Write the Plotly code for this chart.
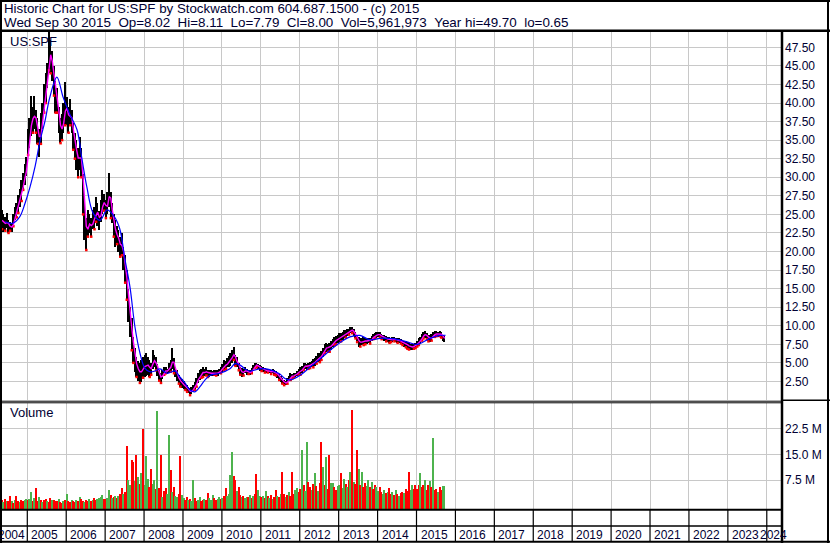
import plotly.graph_objects as go

# ---------------- DATA ----------------
# half-month periods from May 2004 to Sep 2015 (2004: 16 halves, 2005-2014: 24, 2015: 18)
PRICE_LOW = [
    23.0, 22.6, 22.8, 23.2, 22.5, 22.8, 22.6, 23.4, 24.2, 24.6, 25.2, 26.0, 26.8, 28.3, 29.0, 30.2,
    33.0, 34.0, 35.5, 36.0, 36.5, 36.0, 34.5, 32.7, 34.5, 36.5, 38.7, 40.0, 42.0, 44.4, 44.0, 43.0, 41.0, 38.7, 38.7, 36.0, 34.6, 35.0, 36.0, 37.0,
    37.0, 36.0, 37.0, 36.0, 33.7, 32.5, 31.0, 30.0, 31.0, 30.0, 25.0, 21.5, 20.2, 22.0, 22.5, 22.0, 23.0, 23.0, 24.0, 23.5, 22.9, 24.0, 25.0, 25.5,
    24.5, 25.0, 26.0, 24.5, 23.8, 22.0, 20.6, 21.0, 20.0, 19.3, 19.5, 17.5, 15.8, 13.5, 10.5, 8.5, 6.7, 5.0, 3.8, 3.1, 2.6, 2.3, 2.4, 3.0,
    3.1, 3.2, 3.4, 3.1, 3.4, 4.2, 4.4, 4.0, 3.2, 2.6, 2.3, 2.8, 3.4, 3.6, 3.5, 3.6, 3.8, 4.2, 3.6, 3.1, 2.6, 2.2, 1.8, 1.6,
    1.5, 1.35, 1.1, 0.9, 0.65, 0.8, 1.1, 1.35, 1.8, 2.3, 2.7, 3.0, 3.1, 3.2, 3.3, 3.1, 3.1, 3.3, 3.2, 3.4, 3.3, 3.3, 3.5, 3.6,
    3.8, 4.0, 4.2, 4.4, 4.4, 4.6, 5.0, 5.4, 4.6, 4.4, 4.0, 3.4, 3.1, 3.3, 3.6, 3.4, 3.5, 3.4, 3.6, 3.9, 4.3, 4.4, 4.2, 3.9,
    3.9, 3.8, 3.7, 3.6, 3.7, 3.6, 3.5, 3.6, 3.4, 3.3, 3.0, 2.7, 2.4, 2.2, 2.0, 2.0, 2.2, 2.5, 2.7, 2.9, 3.0, 3.1, 3.2, 3.4,
    3.4, 3.7, 4.0, 4.2, 4.1, 4.2, 4.3, 4.4, 4.4, 4.6, 4.9, 5.1, 5.1, 5.4, 5.8, 6.3, 6.4, 6.5, 6.5, 6.8, 7.1, 7.4, 7.5, 7.7,
    7.8, 7.9, 8.1, 8.3, 8.4, 8.6, 8.8, 9.0, 9.0, 8.6, 8.3, 7.8, 7.1, 7.2, 7.4, 7.4, 7.5, 7.6, 7.7, 7.6, 7.9, 8.2, 8.3, 8.4,
    8.5, 8.4, 8.2, 8.1, 8.0, 7.9, 7.8, 7.7, 7.8, 7.8, 7.9, 7.8, 7.7, 7.7, 7.6, 7.4, 7.2, 7.1, 6.9, 6.8, 6.7, 6.8, 6.9, 7.0,
    7.2, 7.4, 7.6, 8.0, 8.3, 8.4, 8.2, 7.9, 7.8, 8.0, 8.3, 8.5, 8.6, 8.5, 8.6, 8.4, 8.0, 7.8,
]
PRICE_HIGH = [
    25.6, 25.0, 24.6, 25.2, 24.2, 24.0, 23.8, 25.0, 26.0, 26.5, 27.6, 28.4, 29.6, 30.6, 31.8, 32.7,
    36.5, 38.0, 41.0, 39.5, 41.0, 39.0, 38.0, 36.5, 38.7, 40.0, 42.5, 44.0, 45.4, 49.7, 48.5, 47.0, 45.0, 43.0, 42.0, 39.5, 38.0, 38.5, 40.0, 42.8,
    40.8, 39.5, 40.5, 39.0, 37.3, 36.0, 35.0, 34.0, 35.4, 34.0, 30.5, 27.0, 24.5, 25.6, 25.0, 24.5, 25.6, 26.0, 27.3, 26.5, 25.5, 27.0, 28.3, 27.8,
    27.0, 28.0, 30.6, 28.0, 26.5, 25.0, 24.2, 23.5, 22.9, 22.0, 22.5, 20.6, 19.5, 17.5, 15.0, 12.5, 11.0, 8.5, 7.0, 5.8, 5.2, 5.0, 5.4, 5.8,
    6.0, 6.3, 5.8, 5.4, 5.0, 6.7, 6.0, 5.8, 4.8, 4.0, 3.6, 4.0, 4.4, 4.4, 4.2, 5.0, 5.4, 7.0, 5.6, 4.4, 4.0, 3.4, 3.1, 2.8,
    2.5, 2.3, 2.0, 1.8, 1.6, 1.7, 2.0, 2.4, 3.0, 3.6, 4.0, 4.2, 4.4, 4.2, 4.4, 4.0, 4.0, 4.0, 3.9, 4.0, 4.0, 4.0, 4.2, 4.4,
    4.8, 5.4, 5.2, 5.6, 5.9, 6.3, 6.8, 7.1, 6.0, 5.8, 5.0, 4.5, 4.3, 4.2, 4.4, 4.2, 4.0, 4.0, 4.3, 4.7, 5.0, 5.0, 4.8, 4.7,
    4.6, 4.4, 4.3, 4.2, 4.2, 4.1, 4.1, 4.2, 4.0, 3.9, 3.7, 3.5, 3.2, 2.9, 2.7, 2.6, 2.9, 3.3, 3.6, 3.5, 3.6, 3.7, 3.9, 4.2,
    4.4, 4.6, 5.0, 5.0, 4.9, 5.0, 5.1, 5.3, 5.5, 5.7, 5.9, 6.3, 6.3, 6.6, 7.0, 7.5, 7.7, 7.6, 7.7, 8.0, 8.2, 8.5, 8.6, 8.8,
    9.0, 9.0, 9.2, 9.4, 9.4, 9.5, 9.6, 9.8, 9.8, 9.5, 9.2, 8.8, 8.5, 8.4, 8.3, 8.5, 8.4, 8.3, 8.4, 8.3, 8.6, 8.9, 9.0, 9.1,
    9.2, 9.1, 8.9, 8.8, 8.7, 8.6, 8.5, 8.5, 8.4, 8.5, 8.5, 8.4, 8.3, 8.3, 8.2, 8.1, 8.0, 7.9, 7.8, 7.7, 7.6, 7.5, 7.5, 7.7,
    8.0, 8.3, 8.5, 8.9, 9.2, 9.3, 9.0, 8.8, 8.7, 8.9, 9.1, 9.3, 9.3, 9.2, 9.3, 9.1, 8.8, 8.6,
]
MA_SHORT = [
    24.2, 24.0, 23.8, 23.9, 23.8, 23.4, 23.3, 23.6, 24.5, 25.3, 25.9, 26.8, 27.6, 28.7, 29.8, 30.8,
    32.8, 35.2, 37.0, 37.9, 38.2, 38.0, 36.9, 35.5, 35.5, 37.3, 39.4, 41.3, 42.8, 45.2, 46.5, 45.6, 44.0, 42.0, 40.6, 39.0, 37.0, 36.5, 37.3, 38.9,
    39.3, 38.4, 38.2, 38.0, 36.5, 35.0, 33.7, 32.6, 32.6, 32.6, 30.0, 26.2, 23.4, 23.0, 23.7, 23.5, 23.7, 24.4, 25.0, 25.3, 24.6, 24.8, 26.0, 26.6,
    26.2, 26.1, 27.4, 27.2, 25.7, 24.3, 23.0, 22.3, 21.8, 21.0, 20.8, 20.0, 18.4, 16.6, 14.2, 11.7, 9.7, 7.8, 6.1, 4.9, 4.2, 3.8, 3.8, 4.2,
    4.5, 4.6, 4.7, 4.4, 4.2, 4.8, 5.3, 5.0, 4.5, 3.7, 3.1, 3.2, 3.6, 3.9, 3.9, 4.1, 4.4, 5.1, 5.1, 4.2, 3.5, 3.0, 2.6, 2.3,
    2.1, 1.9, 1.7, 1.45, 1.2, 1.15, 1.4, 1.7, 2.1, 2.7, 3.1, 3.5, 3.7, 3.7, 3.8, 3.7, 3.6, 3.6, 3.6, 3.6, 3.7, 3.65, 3.75, 3.9,
    4.2, 4.5, 4.7, 4.85, 5.1, 5.3, 5.7, 6.1, 5.8, 5.2, 4.8, 4.2, 3.8, 3.7, 3.9, 3.9, 3.8, 3.7, 3.8, 4.1, 4.5, 4.7, 4.6, 4.4,
    4.3, 4.2, 4.05, 3.95, 3.9, 3.9, 3.8, 3.85, 3.8, 3.65, 3.5, 3.2, 2.95, 2.7, 2.45, 2.3, 2.4, 2.7, 3.0, 3.2, 3.25, 3.35, 3.5, 3.7,
    3.85, 4.0, 4.3, 4.55, 4.55, 4.55, 4.65, 4.8, 4.9, 5.05, 5.3, 5.55, 5.7, 5.85, 6.2, 6.65, 7.0, 7.05, 7.1, 7.25, 7.5, 7.8, 8.0, 8.15,
    8.3, 8.4, 8.55, 8.75, 8.9, 9.0, 9.1, 9.3, 9.4, 9.25, 8.9, 8.5, 8.05, 7.8, 7.8, 7.9, 7.95, 7.95, 8.0, 8.0, 8.1, 8.4, 8.6, 8.7,
    8.8, 8.8, 8.65, 8.5, 8.4, 8.3, 8.2, 8.15, 8.1, 8.1, 8.2, 8.15, 8.05, 8.0, 7.95, 7.8, 7.7, 7.55, 7.45, 7.3, 7.2, 7.15, 7.2, 7.3,
    7.5, 7.7, 7.95, 8.25, 8.6, 8.8, 8.7, 8.5, 8.3, 8.35, 8.6, 8.8, 8.9, 8.9, 8.9, 8.85, 8.6, 8.3,
]
MA_LONG_DATES = [
    "2004-06-05", "2004-08-15", "2004-10-22", "2004-12-10", "2005-01-26", "2005-03-15", "2005-05-01",
    "2005-06-14", "2005-07-31", "2005-10-05", "2005-12-02", "2006-02-06", "2006-04-12", "2006-05-30",
    "2006-07-13", "2006-09-09", "2006-11-14", "2007-01-19", "2007-04-01", "2007-05-19", "2007-07-05",
    "2007-08-22", "2007-10-08", "2007-11-24", "2008-01-08", "2008-02-25", "2008-04-12", "2008-05-30",
    "2008-08-04", "2008-10-19", "2008-12-02", "2009-01-19", "2009-03-07", "2009-04-23", "2009-06-09",
    "2009-07-27", "2009-09-10", "2009-12-14", "2010-03-17", "2010-05-04", "2010-06-21", "2010-08-04",
    "2010-09-21", "2010-12-24", "2011-03-26", "2011-06-28", "2011-08-15", "2011-10-01", "2012-01-01",
    "2012-04-05", "2012-07-09", "2012-10-12", "2013-01-11", "2013-04-16", "2013-07-20", "2013-10-20",
    "2014-01-22", "2014-04-22", "2014-07-26", "2014-10-30", "2015-01-15", "2015-05-08", "2015-08-12",
    "2015-09-30",
]
MA_LONG = [
    24.0, 23.8, 24.7, 26.5, 28.7, 31.5, 35.0, 37.5, 40.8, 43.5, 40.8, 38.4, 36.4, 32.3, 28.7, 25.2,
    24.2, 25.6, 24.6, 23.0, 19.0, 15.2, 9.8, 6.3, 4.3, 3.8, 3.9, 4.2, 3.6, 3.9, 3.1, 2.3, 1.35, 1.1,
    1.8, 2.7, 3.3, 3.6, 4.2, 4.9, 4.7, 4.2, 3.9, 4.2, 4.1, 3.5, 2.9, 2.7, 3.3, 4.4, 5.5, 6.7, 7.7,
    8.5, 8.7, 8.1, 8.3, 8.3, 8.1, 7.7, 7.5, 8.3, 8.7, 8.7,
]
VOLUME_M = [
    1.6, 1.2, 1.9, 1.3, 1.5, 3.0, 1.4, 1.0, 1.7, 2.8, 1.3, 1.2, 1.8, 1.4, 1.6, 2.1,
    1.8, 2.0, 4.2, 1.5, 2.2, 5.2, 1.4, 2.6, 1.8, 1.2, 1.6, 2.0, 1.3, 1.1, 2.2, 1.6, 1.8, 1.3, 1.5, 1.9, 1.2, 1.0, 1.4, 1.6,
    3.4, 1.5, 1.2, 1.8, 1.4, 1.1, 1.6, 1.3, 2.7, 1.9, 1.4, 1.2, 1.7, 1.5, 2.0, 1.3, 1.8, 2.2, 1.6, 1.9, 2.4, 2.5, 3.2, 2.0,
    2.0, 2.4, 4.7, 3.2, 2.2, 2.6, 3.0, 2.4, 2.8, 3.4, 5.3, 3.6, 4.2, 17.6, 7.6, 6.0, 13.4, 12.8, 7.2, 15.0, 8.6, 6.4, 9.5, 22.6,
    6.0, 14.6, 8.0, 5.5, 10.7, 6.5, 7.6, 5.0, 27.7, 5.3, 14.9, 2.7, 4.5, 5.2, 3.6, 20.6, 10.5, 4.2, 5.6, 3.0, 2.7, 3.5, 14.6, 3.2,
    2.2, 1.8, 2.5, 1.6, 2.0, 1.4, 7.6, 2.2, 1.5, 1.8, 2.7, 1.3, 1.75, 2.0, 1.6, 3.9, 2.4, 1.8, 3.2, 2.3, 1.75, 2.1, 2.6, 1.9,
    2.4, 3.0, 5.2, 2.8, 3.6, 9.0, 15.7, 8.7, 7.6, 4.4, 5.6, 3.2, 2.6, 3.0, 2.2, 2.7, 2.5, 3.1, 2.4, 2.9, 3.4, 9.3, 4.7, 3.0,
    2.6, 3.0, 2.2, 4.4, 2.8, 2.4, 3.2, 2.0, 2.6, 4.8, 3.0, 2.5, 3.4, 10.0, 3.6, 2.7, 3.2, 4.0, 3.0, 10.0, 3.6, 4.7, 5.2, 4.0,
    5.0, 16.3, 6.0, 4.5, 18.6, 7.0, 5.6, 4.8, 6.4, 9.5, 5.8, 4.4, 6.8, 18.6, 11.5, 6.2, 14.4, 5.0, 14.9, 6.8, 6.6, 5.4, 4.7, 5.8,
    6.0, 9.7, 5.2, 8.0, 6.4, 5.5, 7.6, 10.0, 28.0, 7.0, 6.5, 16.3, 10.9, 6.0, 10.0, 5.4, 6.6, 5.8, 7.6, 5.6, 7.1, 5.0, 6.1, 5.4,
    4.4, 5.4, 4.0, 3.6, 4.7, 3.8, 4.2, 5.2, 3.4, 4.0, 3.2, 4.6, 3.6, 3.0, 3.7, 4.2, 3.8, 5.0, 4.5, 10.0, 4.8, 6.1, 5.0, 6.1,
    5.0, 6.0, 9.5, 5.4, 6.1, 7.6, 4.8, 6.1, 7.4, 5.6, 20.0, 4.7, 5.0, 4.2, 5.6, 4.6, 5.8, 5.9,
]
VOLUME_DIR = (  # r = down period, g = up period
    "rgrgrrgrgrrgrrgg"
    "rggrgrrgrgrrgrrgrrrgrrgr"
    "grrgrrgrgrrgrrgrgrrggggr"
    "rggrgrgrgrrgrrggrrgrgrgr"
    "gggrrggrgrrgrrggrgrggrrg"
    "grrgrggrrggrrgrrgggrrggr"
    "grrggggrrgrrgrggrgrgrrgg"
    "rgrgrgrgrrgrgrrgrgrrrggr"
    "rgrggrrgrgrgrrgrgrrggrrg"
    "grggrgrgrgrrgrgrrggrgrrg"
    "grrggrgrrgrgrgrrgrrrggrr"
    "rrgrrgrrgrgrrgrrgg"
)
PRICE_TICKS = [2.5, 5, 7.5, 10, 12.5, 15, 17.5, 20, 22.5, 25, 27.5, 30, 32.5, 35, 37.5, 40, 42.5, 45, 47.5]
VOL_TICKS = [7.5, 15.0, 22.5]
VOL_TICK_TEXT = ["7.5 M", "15.0 M", "22.5 M"]
YEARS = list(range(2004, 2025))
TITLE_1 = "Historic Chart for US:SPF by Stockwatch.com 604.687.1500 - (c) 2015"
TITLE_2 = ("Wed Sep 30 2015 \u00a0Op=8.02 \u00a0Hi=8.11 \u00a0Lo=7.79 \u00a0Cl=8.00 "
           "\u00a0Vol=5,961,973 \u00a0Year hi=49.70 \u00a0lo=0.65")

# ---------------- periods (half months) ----------------
periods = []
for y in range(2004, 2016):
    for m in range(1, 13):
        if (y, m) < (2004, 5) or (y, m) > (2015, 9):
            continue
        periods.append(f"{y}-{m:02d}-08")
        periods.append(f"{y}-{m:02d}-23")

n = len(periods)
assert len(PRICE_LOW) == n and len(PRICE_HIGH) == n and len(MA_SHORT) == n
assert len(VOLUME_M) == n and len(VOLUME_DIR) == n
assert len(MA_LONG) == len(MA_LONG_DATES)

# ---------------- geometry helpers ----------------
W, H = 830, 543
def px(x):
    return x / W
def py(y):
    return 1 - y / H

DAY = 86400000
FONT = "Liberation Sans, Arial, sans-serif"
TXT = "#000033"
GRID = "#c8c8c8"
X_RANGE = ["2004-04-19", "2024-05-14"]
VOL_FLOOR = -0.9
RED = "#ff0000"
GREEN = "#4db34d"

down_x = [d for d, c in zip(periods, VOLUME_DIR) if c == "r"]
down_low = [l for l, c in zip(PRICE_LOW, VOLUME_DIR) if c == "r"]

fig = go.Figure()
fig.add_trace(go.Bar(
    x=periods, y=[h - l for h, l in zip(PRICE_HIGH, PRICE_LOW)], base=PRICE_LOW,
    width=14 * DAY, marker=dict(color="black", line=dict(width=0)),
    xaxis="x", yaxis="y", hoverinfo="skip"))
fig.add_trace(go.Scatter(
    x=down_x, y=down_low, mode="markers",
    marker=dict(symbol="square", size=2.5, color=RED, line=dict(width=0)),
    xaxis="x", yaxis="y", hoverinfo="skip"))
fig.add_trace(go.Scatter(
    x=periods, y=MA_SHORT, mode="lines", line=dict(color="#ff00ff", width=1.4),
    xaxis="x", yaxis="y", hoverinfo="skip"))
fig.add_trace(go.Scatter(
    x=MA_LONG_DATES, y=MA_LONG, mode="lines", line=dict(color="#0000ff", width=1.2, shape="spline"),
    xaxis="x", yaxis="y", hoverinfo="skip"))
fig.add_trace(go.Bar(
    x=periods, y=[v - VOL_FLOOR for v in VOLUME_M], base=VOL_FLOOR,
    width=14 * DAY, marker=dict(color=[RED if c == "r" else GREEN for c in VOLUME_DIR], line=dict(width=0)),
    xaxis="x2", yaxis="y2", hoverinfo="skip"))

year_ticks = [f"{y}-01-01" for y in YEARS[1:]]
xcommon = dict(domain=[0, px(781)], range=X_RANGE, type="date", tickvals=year_ticks,
               showticklabels=False, showgrid=True, gridcolor=GRID, gridwidth=1,
               zeroline=False, showline=False, ticks="")
tickfont = dict(family=FONT, size=12, color=TXT)

fig.update_layout(
    width=W, height=H, margin=dict(l=0, r=0, t=0, b=0),
    paper_bgcolor="white", plot_bgcolor="white", showlegend=False,
    barmode="overlay", bargap=0,
    xaxis=dict(anchor="y", **xcommon),
    xaxis2=dict(anchor="y2", **xcommon),
    yaxis=dict(domain=[py(400), py(31)], range=[0, 49.7], side="right", anchor="x",
               tickvals=PRICE_TICKS, tickformat=".2f", showgrid=True, gridcolor=GRID,
               zeroline=False, showline=False, ticks="", tickfont=tickfont, ticklabelstandoff=3),
    yaxis2=dict(domain=[py(509), py(403)], range=[VOL_FLOOR, 30.1], side="right", anchor="x2",
                tickvals=VOL_TICKS, ticktext=VOL_TICK_TEXT, showgrid=True, gridcolor=GRID,
                zeroline=False, showline=False, ticks="", tickfont=tickfont, ticklabelstandoff=3),
)

shapes = []
def hline(y, x0, x1, w):
    shapes.append(dict(type="line", xref="paper", yref="paper", x0=px(x0), x1=px(x1),
                       y0=py(y), y1=py(y), line=dict(color="black", width=w), layer="above"))
def vline(x, y0, y1, w):
    shapes.append(dict(type="line", xref="paper", yref="paper", x0=px(x), x1=px(x),
                       y0=py(y0), y1=py(y1), line=dict(color="black", width=w), layer="above"))

hline(1, 0, 830, 2)
hline(30.7, 0, 830, 2.5)
hline(401.2, 0, 782, 1)
hline(402.8, 0, 782, 1)
hline(400.2, 782, 830, 1.5)
hline(509.7, 0, 782, 2)
hline(526, 0, 782, 1.5)
hline(541.8, 0, 830, 2)
vline(1, 0, 543, 2)
vline(828, 0, 543, 2)
vline(782, 31, 543, 2.5)
for y in YEARS[1:]:
    xx = 27.3 + (y - 2005) * 38.92
    vline(xx, 509, 542, 1.2)
fig.update_layout(shapes=shapes)

ann = []
def label(x, y, text, size=13, anchor="left"):
    ann.append(dict(xref="paper", yref="paper", x=px(x), y=py(y), text=text, showarrow=False,
                    xanchor=anchor, yanchor="middle", font=dict(family=FONT, size=size, color=TXT)))

label(2, 8.5, TITLE_1, 13.3)
label(2, 22, TITLE_2, 13.4)
label(8, 41, "US:SPF", 13)
label(8, 413, "Volume", 13)
for y in YEARS:
    if y == 2004:
        ann.append(dict(xref="x2", yref="paper", x="2005-01-01", y=py(534.5), text=str(y), showarrow=False,
                        xanchor="right", yanchor="middle", xshift=0, font=dict(family=FONT, size=12, color=TXT)))
    elif y == 2024:
        ann.append(dict(xref="x2", yref="paper", x="2024-01-01", y=py(534.5), text=str(y), showarrow=False,
                        xanchor="left", yanchor="middle", xshift=-9, font=dict(family=FONT, size=12, color=TXT)))
    else:
        ann.append(dict(xref="x2", yref="paper", x=f"{y}-01-01", y=py(534.5), text=str(y), showarrow=False,
                        xanchor="left", yanchor="middle", xshift=2, font=dict(family=FONT, size=12, color=TXT)))
fig.update_layout(annotations=ann)

fig.write_html("out.html", config={"displayModeBar": False},
               post_script="document.body.style.margin='0';document.body.style.overflow='hidden';")
